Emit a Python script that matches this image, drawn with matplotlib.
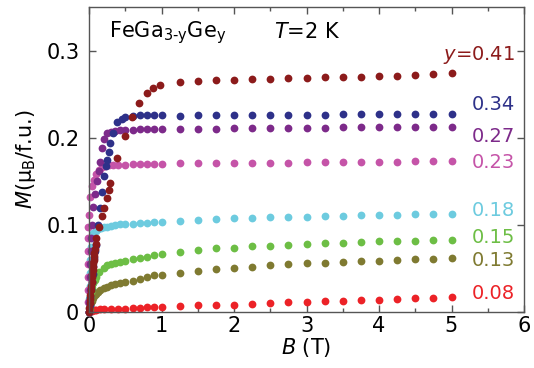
import matplotlib
matplotlib.use("Agg")
import matplotlib.pyplot as plt
from matplotlib.ticker import MultipleLocator, FuncFormatter

plt.rcParams['font.family'] = ['DejaVu Sans']
plt.rcParams['mathtext.fontset'] = 'dejavusans'

# ---- data -------------------------------------------------------------
B_high = [1.25, 1.5, 1.75, 2.0, 2.25, 2.5, 2.75, 3.0, 3.25, 3.5, 3.75, 4.0, 4.25, 4.5, 4.75, 5.0]

labels = ['0.08', '0.13', '0.15', '0.18', '0.23', '0.27', '0.34', '0.41']
colors = ['#EC2227', '#7F7A31', '#6DBE45', '#6DCBDF', '#C554A8', '#7D2A8A', '#2E3189', '#8C1B1B']

B_008 = [0, 0.02, 0.04, 0.06, 0.08, 0.1, 0.15, 0.2, 0.3, 0.4, 0.5, 0.6, 0.7, 0.8, 0.9, 1.0]
M_008 = [0, 0.001, 0.0015, 0.002, 0.002, 0.0025, 0.003, 0.0032, 0.0035, 0.0038, 0.004, 0.0045,
         0.005, 0.0052, 0.0055, 0.006]
Mh_008 = [0.0065, 0.0075, 0.008, 0.0086, 0.0093, 0.010, 0.011, 0.0118, 0.0125, 0.013, 0.0136,
          0.0142, 0.015, 0.0156, 0.0162, 0.0169]

B_013 = [0, 0.01, 0.02, 0.03, 0.04, 0.06, 0.08, 0.1, 0.125, 0.155, 0.2, 0.25, 0.3, 0.36, 0.43,
         0.5, 0.6, 0.7, 0.8, 0.9, 1.0]
M_013 = [0, 0.004, 0.008, 0.011, 0.013, 0.016, 0.019, 0.021, 0.023, 0.025, 0.027, 0.029, 0.0305,
         0.032, 0.033, 0.034, 0.036, 0.038, 0.0405, 0.042, 0.043]
Mh_013 = [0.0445, 0.0475, 0.049, 0.051, 0.052, 0.054, 0.055, 0.056, 0.0567, 0.0575, 0.0583, 0.059,
          0.0597, 0.0605, 0.061, 0.062]

B_015 = [0, 0.01, 0.02, 0.03, 0.04, 0.06, 0.08, 0.1, 0.135, 0.2, 0.25, 0.3, 0.36, 0.43, 0.5,
         0.6, 0.7, 0.8, 0.9, 1.0]
M_015 = [0, 0.008, 0.016, 0.023, 0.028, 0.033, 0.037, 0.040, 0.046, 0.050, 0.054, 0.055, 0.0567,
         0.0575, 0.058, 0.0605, 0.062, 0.0635, 0.065, 0.066]
Mh_015 = [0.0686, 0.071, 0.073, 0.074, 0.0752, 0.076, 0.077, 0.078, 0.0787, 0.0795, 0.080, 0.081,
          0.0815, 0.082, 0.0825, 0.083]

B_018 = [0, 0.005, 0.01, 0.015, 0.02, 0.03, 0.04, 0.06, 0.09, 0.13, 0.17, 0.21, 0.25, 0.3, 0.36,
         0.43, 0.5, 0.6, 0.7, 0.8, 0.9, 1.0]
M_018 = [0, 0.015, 0.03, 0.045, 0.06, 0.075, 0.085, 0.091, 0.093, 0.095, 0.096, 0.097, 0.098,
         0.099, 0.100, 0.1005, 0.101, 0.1015, 0.102, 0.1025, 0.103, 0.1033]
Mh_018 = [0.105, 0.1057, 0.1067, 0.1075, 0.108, 0.1085, 0.109, 0.1095, 0.110, 0.1105, 0.111,
          0.1113, 0.1117, 0.112, 0.1123, 0.1126]

B_023 = [0, -0.015, -0.02, -0.02, -0.02, -0.018, -0.015, -0.01, 0, 0.02, 0.04, 0.065, 0.1, 0.135,
         0.18, 0.225, 0.28, 0.33, 0.4, 0.5, 0.6, 0.7, 0.8, 0.9, 1.0]
M_023 = [0, 0.012, 0.025, 0.04, 0.055, 0.07, 0.085, 0.098, 0.111, 0.1325, 0.145, 0.152, 0.158,
         0.163, 0.166, 0.168, 0.1685, 0.169, 0.169, 0.169, 0.1695, 0.1695, 0.170, 0.170, 0.170]
Mh_023 = [0.1709, 0.171, 0.171, 0.1711, 0.1712, 0.1713, 0.1715, 0.1717, 0.1719, 0.172, 0.1722,
          0.1725, 0.1727, 0.173, 0.1733, 0.1736]

B_027 = [0, 0.005, 0.01, 0.015, 0.02, 0.025, 0.03, 0.04, 0.06, 0.08, 0.11, 0.135, 0.155, 0.18,
         0.2, 0.25, 0.3, 0.36, 0.43, 0.5, 0.6, 0.7, 0.8, 0.9, 1.0]
M_027 = [0, 0.012, 0.025, 0.04, 0.055, 0.07, 0.085, 0.1, 0.12, 0.135, 0.15, 0.162, 0.172, 0.188,
         0.198, 0.205, 0.207, 0.208, 0.2085, 0.209, 0.209, 0.2095, 0.21, 0.21, 0.21]
Mh_027 = [0.2100, 0.2102, 0.2105, 0.2107, 0.2109, 0.211, 0.2112, 0.2114, 0.2116, 0.2118, 0.212,
          0.2121, 0.2122, 0.2124, 0.2125, 0.2126]

B_034 = [0, 0.01, 0.02, 0.03, 0.04, 0.05, 0.06, 0.07, 0.08, 0.09, 0.12, 0.15, 0.18, 0.2, 0.23,
         0.25, 0.27, 0.295, 0.33, 0.39, 0.45, 0.5, 0.6, 0.7, 0.8, 0.9, 1.0]
M_034 = [0, 0.008, 0.017, 0.026, 0.035, 0.044, 0.053, 0.062, 0.07, 0.077, 0.1, 0.119, 0.138,
         0.156, 0.167, 0.174, 0.184, 0.194, 0.205, 0.2176, 0.222, 0.224, 0.225, 0.2255, 0.226,
         0.226, 0.226]
Mh_034 = [0.2252, 0.2255, 0.2257, 0.226, 0.226, 0.2262, 0.2264, 0.2265, 0.2266, 0.2268, 0.227,
          0.227, 0.2272, 0.2273, 0.2274, 0.2275]

B_041 = [0, 0.005, 0.01, 0.015, 0.02, 0.025, 0.03, 0.035, 0.04, 0.045, 0.05, 0.055, 0.06, 0.065,
         0.07, 0.075, 0.08, 0.09, 0.1, 0.14, 0.18, 0.2, 0.25, 0.27, 0.295, 0.39, 0.5, 0.59, 0.69,
         0.8, 0.885, 0.98]
M_041 = [0, 0.005, 0.01, 0.015, 0.02, 0.025, 0.03, 0.035, 0.04, 0.044, 0.048, 0.052, 0.056, 0.06,
         0.064, 0.068, 0.072, 0.078, 0.085, 0.097, 0.11, 0.119, 0.131, 0.14, 0.148, 0.177, 0.202,
         0.224, 0.240, 0.251, 0.257, 0.261]
Mh_041 = [0.264, 0.2655, 0.2663, 0.2667, 0.2674, 0.2679, 0.2683, 0.269, 0.2694, 0.2697, 0.2701,
          0.2709, 0.2713, 0.272, 0.2736, 0.2743]

B_low = [B_008, B_013, B_015, B_018, B_023, B_027, B_034, B_041]
M_low = [M_008, M_013, M_015, M_018, M_023, M_027, M_034, M_041]
M_hi = [Mh_008, Mh_013, Mh_015, Mh_018, Mh_023, Mh_027, Mh_034, Mh_041]

label_M = [0.0207, 0.059, 0.0858, 0.1165, 0.171, 0.201, 0.238, 0.295]

# ---- figure -----------------------------------------------------------
fig = plt.figure(figsize=(5.34, 3.68), dpi=100)
ax = fig.add_axes([89 / 534, 56 / 368, (524 - 89) / 534, (312 - 7) / 368])

for Bl, Ml, Mh, c in zip(B_low, M_low, M_hi, colors):
    ax.plot(Bl + B_high, Ml + Mh, 'o', color=c, ms=5.6, mec='none', clip_on=False)

for lab, m, c in zip(labels, label_M, colors):
    txt = (r'$y$=' + lab) if lab == '0.41' else lab
    ax.text(5.88, m, txt, color=c, fontsize=14, ha='right', va='center')

ax.text(0.28, 0.321, r'FeGa$_{\mathrm{3\text{-}y}}$Ge$_{\mathrm{y}}$', fontsize=15,
        ha='left', va='center')
ax.text(2.55, 0.321, r'$T$=2 K', fontsize=15, ha='left', va='center')

ax.set_xlim(0, 6)
ax.set_ylim(0, 0.35)
ax.xaxis.set_major_locator(MultipleLocator(1))
ax.xaxis.set_minor_locator(MultipleLocator(0.5))
ax.yaxis.set_major_locator(MultipleLocator(0.1))
ax.yaxis.set_major_formatter(FuncFormatter(lambda v, p: '0' if abs(v) < 1e-9 else f'{v:.1f}'))
ax.tick_params(which='both', direction='in', top=True, right=True, labelsize=15,
               color='#555555')
ax.tick_params(which='major', length=5, width=1)
ax.tick_params(which='minor', length=3, width=1)
ax.tick_params(axis='x', pad=3)
ax.tick_params(axis='y', pad=7)
for s in ax.spines.values():
    s.set_color('#555555')
    s.set_linewidth(1)

ax.set_xlabel(r'$B$ (T)', fontsize=15, labelpad=0)
ax.set_ylabel(r'$M$(μ$_\mathrm{B}$/f.u.)', fontsize=15, labelpad=6)

fig.savefig('out.png', dpi=100)
